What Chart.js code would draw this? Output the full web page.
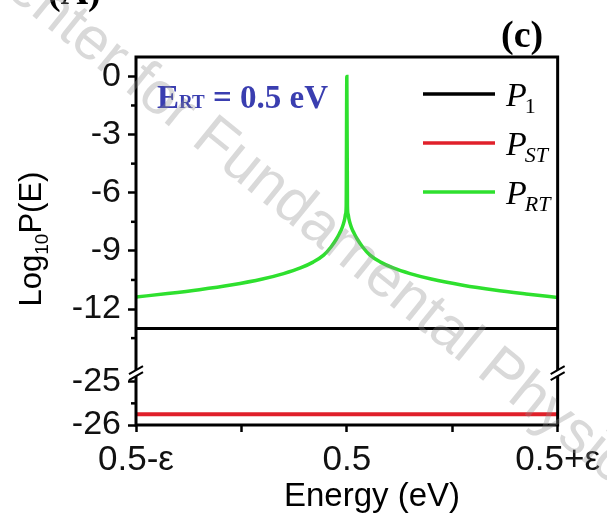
<!DOCTYPE html>
<html>
<head>
<meta charset="utf-8">
<script src="https://cdn.jsdelivr.net/npm/chart.js@4.4.1/dist/chart.umd.min.js"></script>
<style>
  html, body { margin: 0; padding: 0; background: #fff; }
  #wrap { width: 607px; height: 525px; }
</style>
</head>
<body>
<div id="wrap"><canvas id="chart" width="607" height="525"></canvas></div>
<script>
// energy measured from 0.5 eV, in units of epsilon
const energyOffsets = [-1, -0.85, -0.7, -0.55, -0.4, -0.3, -0.22, -0.16, -0.11, -0.075, -0.05, -0.035, -0.024, -0.016, -0.01, -0.006, -0.003, 0,
                       0.003, 0.006, 0.01, 0.016, 0.024, 0.035, 0.05, 0.075, 0.11, 0.16, 0.22, 0.3, 0.4, 0.55, 0.7, 0.85, 1];
const logPRT = [-11.38, -11.2, -11.0, -10.76, -10.45, -10.17, -9.88, -9.58, -9.22, -8.8, -8.4, -8.1, -7.85, -7.6, -7.35, -7.1, -6.7, 0,
                -6.7, -7.1, -7.35, -7.6, -7.85, -8.1, -8.4, -8.8, -9.22, -9.58, -9.88, -10.17, -10.45, -10.77, -11.02, -11.22, -11.4];
const edgeOffsets = [-1, 1];
const logP1 = [-13, -13];
const logPST = [-25.75, -25.75];

const xTickValues = [-1, -0.5, 0, 0.5, 1];
const xTickLabels = ['0.5-ε', '', '0.5', '', '0.5+ε'];
const upperTicks = [0, -3, -6, -9, -12];
const upperMinor = [-1.5, -4.5, -7.5, -10.5, -13.5];
const lowerTicks = [-25, -26];
const lowerMinor = [-25.5];

const SANS = '"Liberation Sans", Arial, sans-serif';
const SERIF = '"Liberation Serif", "Times New Roman", serif';

const toPoints = (xs, ys) => xs.map((x, i) => ({ x, y: ys[i] }));

// frame, minor ticks, axis break, legend and labels
const decorations = {
  id: 'decorations',
  afterDatasetsDraw(chart) {
    const { ctx, chartArea: a, scales } = chart;
    ctx.save();
    ctx.strokeStyle = '#000';
    ctx.lineWidth = 3;
    ctx.strokeRect(a.left, a.top, a.right - a.left, a.bottom - a.top);

    ctx.lineWidth = 2.5;
    const minor = (scale, vals) => vals.forEach(v => {
      const y = scale.getPixelForValue(v);
      ctx.beginPath();
      ctx.moveTo(a.left - 5, y);
      ctx.lineTo(a.left, y);
      ctx.stroke();
    });
    minor(scales.y, upperMinor);
    minor(scales.yLow, lowerMinor);

    // break marks on both side axes
    const by = scales.y.bottom;
    [a.left, a.right].forEach(x => {
      ctx.fillStyle = '#fff';
      ctx.beginPath();
      ctx.moveTo(x - 7, by + 1);
      ctx.lineTo(x + 7, by - 7);
      ctx.lineTo(x + 7, by - 1);
      ctx.lineTo(x - 7, by + 7);
      ctx.closePath();
      ctx.fill();
      ctx.lineWidth = 2;
      ctx.beginPath();
      ctx.moveTo(x - 7, by + 1);
      ctx.lineTo(x + 7, by - 7);
      ctx.moveTo(x - 7, by + 7);
      ctx.lineTo(x + 7, by - 1);
      ctx.stroke();
    });

    // legend
    chart.data.datasets.forEach((ds, i) => {
      const y = 94 + i * 49;
      ctx.strokeStyle = ds.borderColor;
      ctx.lineWidth = 3.5;
      ctx.beginPath();
      ctx.moveTo(423, y);
      ctx.lineTo(495, y);
      ctx.stroke();
      ctx.fillStyle = '#000';
      ctx.textBaseline = 'alphabetic';
      ctx.textAlign = 'left';
      ctx.font = 'italic 34px ' + SERIF;
      ctx.fillText(ds.label, 506, y + 12);
      const w = ctx.measureText(ds.label).width;
      ctx.font = (/\d/.test(ds.sub) ? '' : 'italic ') + '22px ' + SERIF;
      ctx.fillText(ds.sub, 506 + w - 2, y + 19);
    });

    // E_RT annotation
    ctx.fillStyle = '#3a3eb0';
    let x = 157;
    ctx.font = 'bold 33px ' + SERIF;
    ctx.fillText('E', x, 108);
    x += ctx.measureText('E').width;
    ctx.font = 'bold 19px ' + SERIF;
    ctx.fillText('RT', x, 108);
    x += ctx.measureText('RT').width;
    ctx.font = 'bold 33px ' + SERIF;
    ctx.fillText(' = 0.5 eV', x, 108);

    // panel letters
    ctx.fillStyle = '#000';
    ctx.font = 'bold 38px ' + SERIF;
    ctx.fillText('(c)', 501, 47);
    ctx.fillText('(A)', 48, 4);

    // axis titles
    ctx.font = '33px ' + SANS;
    ctx.textAlign = 'center';
    ctx.fillText('Energy (eV)', 372, 506);

    ctx.save();
    ctx.translate(41, 239);
    ctx.rotate(-Math.PI / 2);
    ctx.textAlign = 'left';
    const parts = [['Log', 31, 0], ['10', 19, 7], ['P(E)', 31, 0]];
    let total = 0;
    parts.forEach(([t, s]) => { ctx.font = s + 'px ' + SANS; total += ctx.measureText(t).width; });
    let px = -total / 2;
    parts.forEach(([t, s, dy]) => {
      ctx.font = s + 'px ' + SANS;
      ctx.fillText(t, px, dy);
      px += ctx.measureText(t).width;
    });
    ctx.restore();
    ctx.restore();
  },
  afterDraw(chart) {
    const { ctx } = chart;
    ctx.save();
    ctx.translate(-20, -48);
    ctx.rotate(39 * Math.PI / 180);
    ctx.font = '60px ' + SANS;
    ctx.textBaseline = 'middle';
    ctx.fillStyle = 'rgba(140,140,140,0.33)';
    ctx.fillText('Center for Fundamental Physics', 0, 0);
    ctx.restore();
  }
};

const tickFont = { family: SANS, size: 34 };

new Chart(document.getElementById('chart'), {
  type: 'line',
  data: {
    datasets: [
      { label: 'P', sub: '1', data: toPoints(edgeOffsets, logP1), borderColor: '#000000', borderWidth: 3, yAxisID: 'y' },
      { label: 'P', sub: 'ST', data: toPoints(edgeOffsets, logPST), borderColor: '#e0202a', borderWidth: 4, yAxisID: 'yLow' },
      { label: 'P', sub: 'RT', data: toPoints(energyOffsets, logPRT), borderColor: '#2ee02e', borderWidth: 3.5,
        cubicInterpolationMode: 'monotone', yAxisID: 'y' }
    ]
  },
  options: {
    responsive: false,
    animation: false,
    devicePixelRatio: 1,
    layout: { padding: { top: 57, right: 33, left: 0, bottom: 0 } },
    elements: { point: { radius: 0 } },
    plugins: { legend: { display: false }, tooltip: { enabled: false } },
    scales: {
      x: {
        type: 'linear', min: -1, max: 1,
        afterBuildTicks: s => { s.ticks = xTickValues.map(v => ({ value: v })); },
        afterFit: s => { s.height = 100; },
        border: { display: false },
        grid: { drawOnChartArea: false, tickLength: 7, tickWidth: 2.5, tickColor: '#000' },
        ticks: {
          font: { family: SANS, size: 35 }, color: '#111', padding: 7, maxRotation: 0, autoSkip: false,
          callback: v => xTickLabels[xTickValues.indexOf(v)]
        }
      },
      // lower panel listed first so the stack puts it under the upper one
      yLow: {
        type: 'linear', position: 'left', stack: 'logp', stackWeight: 1,
        min: -26, max: -24.8,
        afterBuildTicks: s => { s.ticks = lowerTicks.map(v => ({ value: v })); },
        afterFit: s => { s.width = 136; },
        border: { display: false },
        grid: { drawOnChartArea: false, tickLength: 8, tickWidth: 2.5, tickColor: '#000' },
        ticks: { font: tickFont, color: '#111', padding: 7, autoSkip: false, callback: v => `${v}` }
      },
      y: {
        type: 'linear', position: 'left', stack: 'logp', stackWeight: 6.08,
        min: -15.3, max: 1,
        afterBuildTicks: s => { s.ticks = upperTicks.map(v => ({ value: v })); },
        afterFit: s => { s.width = 136; },
        border: { display: false },
        grid: { drawOnChartArea: false, tickLength: 8, tickWidth: 2.5, tickColor: '#000' },
        ticks: { font: tickFont, color: '#111', padding: 7, autoSkip: false, callback: v => `${v}` }
      }
    }
  },
  plugins: [decorations]
});
</script>
</body>
</html>
